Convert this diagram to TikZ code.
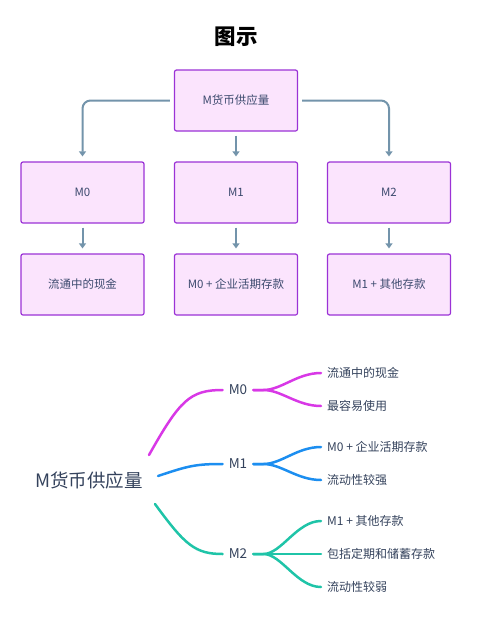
\documentclass[tikz,border=0pt]{standalone}
\usepackage{fontspec}
\setmainfont{Noto Sans CJK SC}
\usetikzlibrary{arrows.meta}
\definecolor{boxfill}{HTML}{FBE4FD}
\definecolor{boxline}{HTML}{9B32D6}
\definecolor{boxtext}{HTML}{3C4A6E}
\definecolor{linkcol}{HTML}{7394AB}
\definecolor{mapzero}{HTML}{D838E6}
\definecolor{mapone}{HTML}{1C8EF0}
\definecolor{maptwo}{HTML}{1FC4A8}
\definecolor{maptext}{HTML}{34425C}
\begin{document}
\begin{tikzpicture}[x=1pt, y=-1pt,
    box/.style={rectangle, draw=boxline, fill=boxfill, line width=1.2pt, rounded corners=2pt,
      minimum width=123pt, minimum height=61pt, text=boxtext, font=\fontsize{11.5}{14}\selectfont},
    link/.style={draw=linkcol, line width=2pt, rounded corners=8pt,
      -{Triangle[length=5pt,width=7pt]}, shorten <=4pt, shorten >=5pt},
    branch/.style={text=maptext, font=\fontsize{13.5}{16}\selectfont, inner sep=6pt},
    leaf/.style={anchor=west, text=maptext, font=\fontsize{12}{15}\selectfont, inner sep=6pt},
    twig/.style={line width=2.5pt, line cap=round}]
    \useasboundingbox (0,0) rectangle (500,632);

    \node (title) at (236,37) {\fontsize{21.5}{24}\selectfont\bfseries 图示};

    \node[box] (top) at (236,100.5) {M货币供应量};
    \node[box] (m0) at (82.5,192.5) {M0};
    \node[box] (m1) at (236,192.5) {M1};
    \node[box] (m2) at (389,192.5) {M2};
    \node[box] (d0) at (82.5,284.5) {流通中的现金};
    \node[box] (d1) at (236,284.5) {M0 + 企业活期存款};
    \node[box] (d2) at (389,284.5) {M1 + 其他存款};

    \draw[link] (top.west) -| (m0.north);
    \draw[link] (top) -- (m1);
    \draw[link] (top.east) -| (m2.north);
    \draw[link] (m0) -- (d0);
    \draw[link] (m1) -- (d1);
    \draw[link] (m2) -- (d2);

    % mind map
    \node[text=maptext, font=\fontsize{18.5}{22}\selectfont] (root) at (89,480) {M货币供应量};
    \node[branch] (b0) at (238,390) {M0};
    \node[branch] (b1) at (238,464) {M1};
    \node[branch] (b2) at (238,554) {M2};
    \node[leaf] (l1) at (321,373) {流通中的现金};
    \node[leaf] (l2) at (321,406) {最容易使用};
    \node[leaf] (l3) at (321,447) {M0 + 企业活期存款};
    \node[leaf] (l4) at (321,480) {流动性较强};
    \node[leaf] (l5) at (321,521) {M1 + 其他存款};
    \node[leaf] (l6) at (321,554) {包括定期和储蓄存款};
    \node[leaf] (l7) at (321,587) {流动性较弱};

    \coordinate (r0) at (149,455);
    \coordinate (r1) at (158,476);
    \coordinate (r2) at (155,504);

    \draw[twig, mapzero] (r0) .. controls (180,400) and (190,390) .. (b0.west);
    \draw[twig, mapone] (r1) .. controls (188,466) and (195,464) .. (b1.west);
    \draw[twig, maptwo] (r2) .. controls (185,545) and (195,554) .. (b2.west);

    \draw[twig, mapzero] (b0.east) -- ++(10,0) .. controls +(18,0) and +(-24,0) .. (l1.west);
    \draw[twig, mapzero] (b0.east) -- ++(10,0) .. controls +(18,0) and +(-24,0) .. (l2.west);
    \draw[twig, mapone] (b1.east) -- ++(10,0) .. controls +(18,0) and +(-24,0) .. (l3.west);
    \draw[twig, mapone] (b1.east) -- ++(10,0) .. controls +(18,0) and +(-24,0) .. (l4.west);
    \draw[twig, maptwo] (b2.east) -- ++(10,0) .. controls +(18,0) and +(-24,0) .. (l5.west);
    \draw[twig, maptwo] (b2.east) -- (l6.west);
    \draw[twig, maptwo] (b2.east) -- ++(10,0) .. controls +(18,0) and +(-24,0) .. (l7.west);
  \end{tikzpicture}
\end{document}
